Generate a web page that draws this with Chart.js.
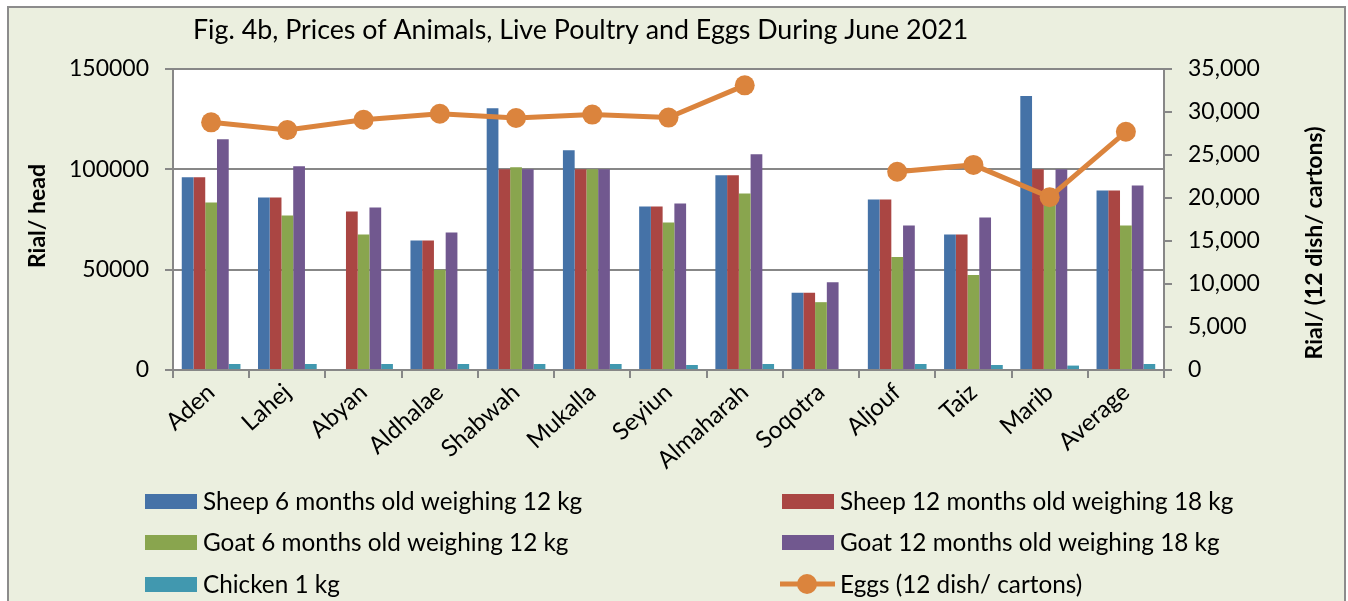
<!DOCTYPE html>
<html>
<head>
<meta charset="utf-8">
<script src="https://cdn.jsdelivr.net/npm/chart.js@4.4.1/dist/chart.umd.min.js"></script>
<style>
  html, body { margin: 0; padding: 0; background: #ffffff; }
  #wrap { width: 1348px; height: 601px; }
</style>
</head>
<body>
<div id="wrap"><canvas id="c" width="1348" height="601"></canvas></div>
<script>
const categories = ['Aden','Lahej','Abyan','Aldhalae','Shabwah','Mukalla','Seyiun','Almaharah','Soqotra','Aljouf','Taiz','Marib','Average'];
const sheep6  = [96000, 86000, null, 64500, 130500, 109500, 81500, 97000, 38500, 85000, 67500, 136500, 89500];
const sheep12 = [96000, 86000, 79000, 64500, 100000, 100000, 81500, 97000, 38500, 85000, 67500, 100000, 89500];
const goat6   = [83500, 77000, 67500, 50000, 101000, 100000, 73500, 88000, 33800, 56300, 47400, 88000, 72000];
const goat12  = [115000, 101500, 81000, 68500, 100000, 100000, 83000, 107500, 43700, 72000, 76000, 100000, 92000];
const chicken = [3000, 3000, 3000, 3000, 3000, 3000, 2500, 3000, null, 3000, 2500, 2200, 3000];
const eggs    = [28800, 27900, 29100, 29800, 29300, 29700, 29350, 33100, null, 23050, 23850, 20100, 27700];

const seriesNames = [
  'Sheep 6 months old weighing 12 kg',
  'Sheep 12 months old weighing 18 kg',
  'Goat 6 months old weighing 12 kg',
  'Goat 12 months old weighing 18 kg',
  'Chicken 1 kg',
  'Eggs (12 dish/ cartons)'
];
const leftTicks = [0, 50000, 100000, 150000];
const rightTicks = [0, 5000, 10000, 15000, 20000, 25000, 30000, 35000];

const colors = ['#4572A7', '#AA4643', '#89A54E', '#71588F', '#4198AF', '#DB843D'];
const FONT = 'Lato, Calibri, "Open Sans", sans-serif';
const GRID = '#878787';

const PLOT_L = 173, PLOT_R = 1164, PLOT_T = 69, PLOT_B = 370;

const decor = {
  id: 'decor',
  beforeDraw(chart) {
    const ctx = chart.ctx;
    ctx.save();
    ctx.fillStyle = '#ffffff';
    ctx.fillRect(0, 0, chart.width, chart.height);
    ctx.fillStyle = '#EBEFDF';
    ctx.fillRect(8, 7, 1337, 600);
    ctx.strokeStyle = '#8C8C8C';
    ctx.lineWidth = 2;
    ctx.strokeRect(8, 7, 1337, 610);
    const a = chart.chartArea;
    ctx.fillStyle = '#ffffff';
    ctx.fillRect(a.left, a.top, a.right - a.left, a.bottom - a.top);
    ctx.restore();
  },
  afterDraw(chart) {
    const ctx = chart.ctx;
    ctx.save();
    // title
    ctx.fillStyle = '#000';
    ctx.font = '26.8px ' + FONT;
    ctx.textAlign = 'left';
    ctx.textBaseline = 'alphabetic';
    ctx.fillText('Fig. 4b, Prices of Animals, Live Poultry and Eggs During June 2021', 193, 39);
    // left axis title
    ctx.font = 'bold 23px ' + FONT;
    ctx.textAlign = 'center';
    ctx.textBaseline = 'middle';
    ctx.save();
    ctx.translate(38, 216);
    ctx.rotate(-Math.PI / 2);
    ctx.fillText('Rial/ head', 0, 0);
    ctx.restore();
    // right axis title
    ctx.save();
    ctx.translate(1315, 243);
    ctx.rotate(-Math.PI / 2);
    ctx.fillText('Rial/ (12 dish/ cartons)', 0, 0);
    ctx.restore();
    // legend
    const rows = [501, 542, 584];
    const cols = [{box: 145, text: 203}, {box: 782, text: 840}];
    ctx.font = '24.3px ' + FONT;
    ctx.textAlign = 'left';
    ctx.textBaseline = 'middle';
    chart.data.datasets.forEach((ds, i) => {
      const col = cols[i % 2];
      const y = rows[Math.floor(i / 2)];
      if (ds.type === 'line') {
        ctx.strokeStyle = ds.borderColor;
        ctx.lineWidth = 5;
        ctx.beginPath();
        ctx.moveTo(col.box - 2, y);
        ctx.lineTo(col.box + 53, y);
        ctx.stroke();
        ctx.fillStyle = ds.borderColor;
        ctx.beginPath();
        ctx.arc(col.box + 25, y, 10, 0, Math.PI * 2);
        ctx.fill();
      } else {
        ctx.fillStyle = ds.backgroundColor;
        ctx.fillRect(col.box, y - 7, 52, 15);
      }
      ctx.fillStyle = '#000';
      ctx.fillText(ds.label, col.text, y + 1);
    });
    ctx.restore();
  }
};

function barDs(label, data, color) {
  return { type: 'bar', label, data, backgroundColor: color, borderWidth: 0,
           yAxisID: 'y', order: 2, barPercentage: 1.0, categoryPercentage: 0.77 };
}

new Chart(document.getElementById('c'), {
  data: {
    labels: categories,
    datasets: [
      barDs(seriesNames[0], sheep6, colors[0]),
      barDs(seriesNames[1], sheep12, colors[1]),
      barDs(seriesNames[2], goat6, colors[2]),
      barDs(seriesNames[3], goat12, colors[3]),
      barDs(seriesNames[4], chicken, colors[4]),
      { type: 'line', label: seriesNames[5], data: eggs, yAxisID: 'y1', order: 1,
        borderColor: colors[5], backgroundColor: colors[5], borderWidth: 5,
        pointRadius: 10, pointHoverRadius: 10, pointBackgroundColor: colors[5],
        pointBorderWidth: 0, spanGaps: false, tension: 0 }
    ]
  },
  options: {
    responsive: false,
    animation: false,
    devicePixelRatio: 1,
    layout: { padding: { top: PLOT_T, left: 0, right: 0, bottom: 0 } },
    plugins: { legend: { display: false }, tooltip: { enabled: false }, title: { display: false } },
    scales: {
      x: {
        offset: true,
        grid: { display: true, drawOnChartArea: false, drawTicks: true, tickLength: 8, color: GRID, lineWidth: 2, offset: true },
        border: { display: true, color: GRID, width: 2 },
        ticks: { color: '#000', font: { family: FONT, size: 24 }, maxRotation: 42, minRotation: 42, padding: 0, autoSkip: false },
        afterFit(s) { s.height = 601 - PLOT_B; }
      },
      y: {
        position: 'left',
        min: 0, max: 150000,
        afterBuildTicks(s) { s.ticks = leftTicks.map(v => ({ value: v })); },
        grid: { color: GRID, lineWidth: 2, drawTicks: true, tickLength: 8 },
        border: { display: true, color: GRID, width: 2 },
        ticks: { color: '#000', font: { family: FONT, size: 23 }, padding: 16, callback: v => String(v) },
        afterFit(s) { s.width = PLOT_L; }
      },
      y1: {
        position: 'right',
        min: 0, max: 35000,
        afterBuildTicks(s) { s.ticks = rightTicks.map(v => ({ value: v })); },
        grid: { drawOnChartArea: false, color: GRID, lineWidth: 2, drawTicks: true, tickLength: 8 },
        border: { display: true, color: GRID, width: 2 },
        ticks: { color: '#000', font: { family: FONT, size: 23 }, padding: 16, callback: v => v.toLocaleString('en-US') },
        afterFit(s) { s.width = 1348 - PLOT_R; }
      }
    }
  },
  plugins: [decor]
});
</script>
</body>
</html>
